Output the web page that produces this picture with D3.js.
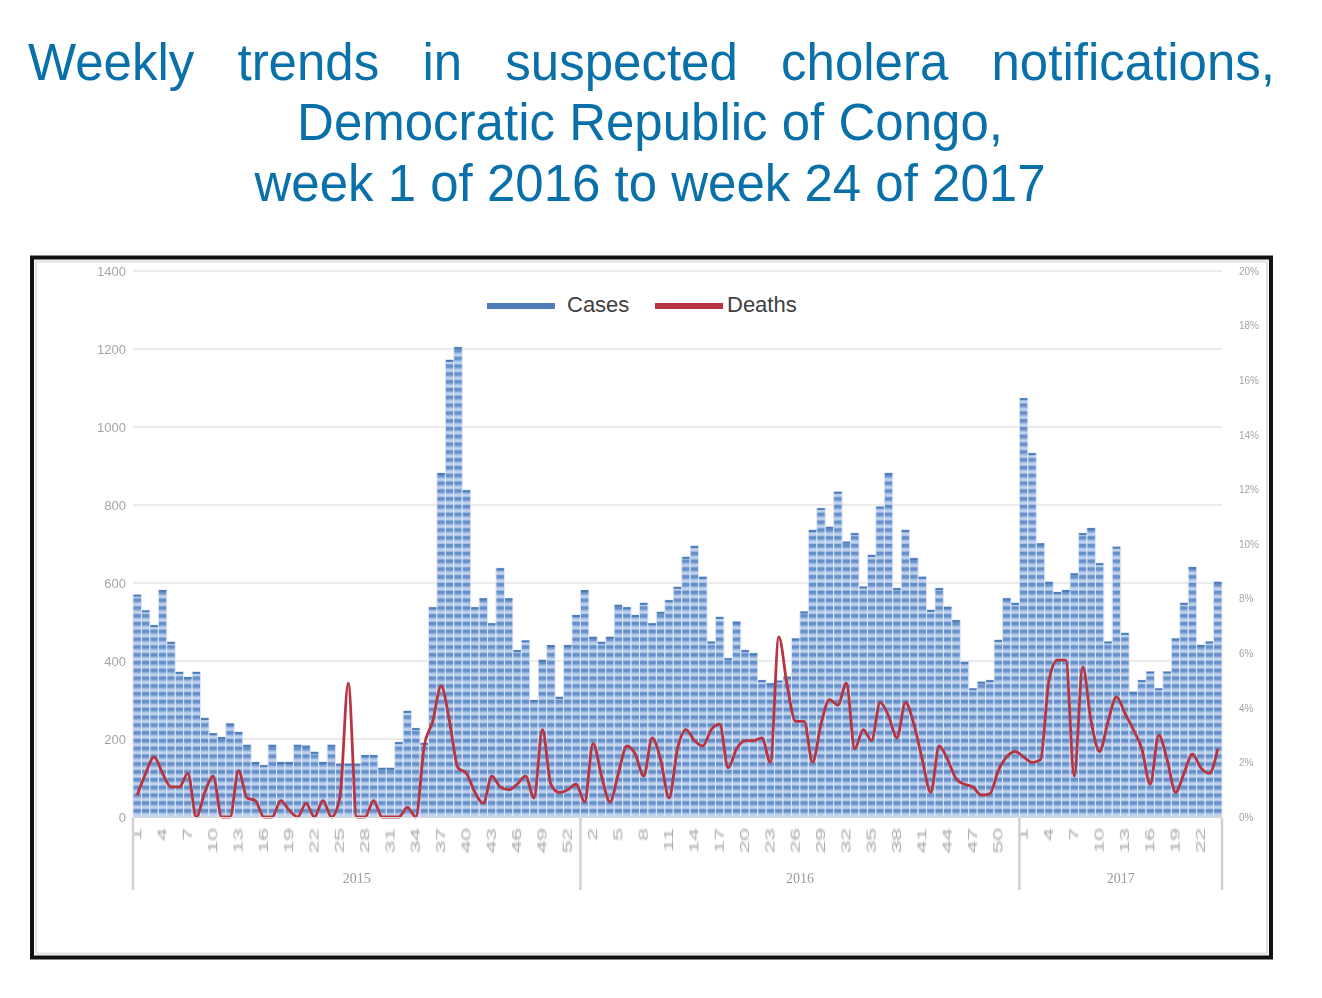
<!DOCTYPE html>
<html>
<head>
<meta charset="utf-8">
<script src="https://cdn.jsdelivr.net/npm/d3@7"></script>
<style>
  body { margin: 0; background: #fff; }
  svg { display: block; }
</style>
</head>
<body>
<svg width="1322" height="998"></svg>
<script>
// données
const titleLines = [
  "Weekly trends in suspected cholera notifications,",
  "Democratic Republic of Congo,",
  "week 1 of 2016 to week 24 of 2017"
];
const years = ["2015", "2016", "2017"];
const weeksPerYear = [53, 52, 24];

const cases2015 = [570, 530, 492, 582, 449, 372, 359, 372, 254, 215, 205, 240, 218, 185, 141, 133, 185, 141,
  141, 185, 183, 167, 141, 185, 137, 137, 137, 159, 159, 126, 126, 192, 272, 228, 190, 538, 882, 1172,
  1205, 838, 538, 561, 497, 638, 561, 428, 453, 300, 403, 441, 308, 441, 518];
const cases2016 = [582, 462, 449, 462, 544, 538, 518, 549, 497, 526, 556, 590, 667, 695, 616, 450, 513, 407,
  501, 428, 420, 351, 343, 350, 360, 458, 527, 736, 792, 744, 834, 706, 728, 591, 672, 796, 882, 587,
  736, 664, 616, 531, 587, 539, 505, 398, 330, 347, 351, 454, 561, 549];
const cases2017 = [1074, 933, 702, 603, 577, 582, 625, 728, 741, 651, 450, 693, 472, 321, 351, 373, 330, 373,
  458, 549, 641, 441, 450, 603];

// taux en %
const deaths2015 = [0.8, 1.6, 2.2, 1.6, 1.1, 1.1, 1.6, 0, 0.9, 1.5, 0, 0, 1.7, 0.7, 0.6, 0, 0, 0.6, 0.25, 0,
  0.5, 0, 0.6, 0, 0.7, 4.9, 0, 0, 0.6, 0, 0, 0, 0.35, 0, 2.6, 3.5, 4.8, 3.5, 1.8, 1.6, 0.9, 0.5, 1.5,
  1.1, 1.0, 1.2, 1.5, 0.7, 3.2, 1.2, 0.9, 1.0, 1.2];
const deaths2016 = [0.55, 2.7, 1.5, 0.55, 1.6, 2.6, 2.3, 1.5, 2.9, 2.1, 0.7, 2.5, 3.2, 2.8, 2.6, 3.2, 3.4, 1.8,
  2.5, 2.8, 2.8, 2.9, 2.0, 6.6, 4.8, 3.5, 3.5, 2.0, 3.4, 4.3, 4.1, 4.9, 2.5, 3.2, 2.8, 4.2, 3.7, 2.9,
  4.2, 3.4, 2.1, 0.9, 2.6, 2.1, 1.4, 1.2, 1.1, 0.8, 0.85, 1.7, 2.2, 2.4];
const deaths2017 = [2.2, 2.0, 2.1, 5.0, 5.75, 5.75, 1.5, 5.5, 3.5, 2.4, 3.5, 4.4, 3.8, 3.2, 2.5, 1.2, 3.0, 2.1,
  0.9, 1.6, 2.3, 1.8, 1.6, 2.5];

const caseTicks = [0, 200, 400, 600, 800, 1000, 1200, 1400];
const pctTicks = [0, 2, 4, 6, 8, 10, 12, 14, 16, 18, 20];
const legendItems = ["Cases", "Deaths"];

// construire les semaines
const weeks = [];
years.forEach((yr, i) => {
  for (let w = 1; w <= weeksPerYear[i]; w++) weeks.push({ year: yr, week: w });
});
const cases = cases2015.concat(cases2016, cases2017);
const deaths = deaths2015.concat(deaths2016, deaths2017);
weeks.forEach((d, i) => { d.cases = cases[i]; d.deaths = deaths[i]; d.i = i; });

const svg = d3.select("svg");
const blue = "#4f7db8", red = "#b83441", titleBlue = "#0a70a9";

// titre
const t1 = svg.append("g").attr("font-family", "'Liberation Sans', Arial, sans-serif")
  .attr("font-size", 51).attr("fill", titleBlue);
const words = titleLines[0].split(" ");
const wEls = words.map(w => t1.append("text").attr("y", 80).text(w));
const widths = wEls.map(e => e.node().getComputedTextLength());
const left = 28, right = 1275;
const gap = (right - left - d3.sum(widths)) / (words.length - 1);
let xx = left;
wEls.forEach((e, i) => { e.attr("x", xx); xx += widths[i] + gap; });
t1.append("text").attr("x", 650).attr("y", 140).attr("text-anchor", "middle").text(titleLines[1]);
t1.append("text").attr("x", 650).attr("y", 201).attr("text-anchor", "middle").text(titleLines[2]);

// cadre
svg.append("rect").attr("x", 32).attr("y", 257.5).attr("width", 1239).attr("height", 700)
  .attr("fill", "#fff").attr("stroke", "#111").attr("stroke-width", 4);
svg.append("rect").attr("x", 36).attr("y", 261.5).attr("width", 1231).attr("height", 692)
  .attr("fill", "none").attr("stroke", "#e2e2e2").attr("stroke-width", 2);

const defs = svg.append("defs");
const blur = defs.append("filter").attr("id", "soft");
blur.append("feGaussianBlur").attr("stdDeviation", 0.6);
const pat = defs.append("pattern").attr("id", "stripes").attr("patternUnits", "userSpaceOnUse")
  .attr("width", 20).attr("height", 7.8).attr("y", 817);
pat.append("rect").attr("width", 20).attr("height", 7.8).attr("fill", "#a6c0e6");
pat.append("rect").attr("width", 20).attr("height", 3.4).attr("fill", "#6590ca");
pat.append("rect").attr("y", 5.2).attr("width", 20).attr("height", 1.4).attr("fill", "#cbdaf0");

// échelles
const x = d3.scaleBand().domain(weeks.map(d => d.i)).range([133, 1222]).padding(0);
const y = d3.scaleLinear().domain([0, 1400]).range([817, 271]);
const y2 = d3.scaleLinear().domain([0, 20]).range([817, 271]);

// grille
svg.append("g").selectAll("line").data(caseTicks).join("line")
  .attr("x1", 133).attr("x2", 1222)
  .attr("y1", d => y(d)).attr("y2", d => y(d))
  .attr("stroke", "#e4e4e4").attr("stroke-width", 1.5);

// axes
const axL = svg.append("g").attr("transform", "translate(133,0)")
  .call(d3.axisLeft(y).tickValues(caseTicks).tickSize(0).tickPadding(7).tickFormat(d3.format("d")));
axL.select(".domain").remove();
axL.selectAll("text").attr("font-family", "'Liberation Sans', Arial, sans-serif")
  .attr("font-size", 13).attr("fill", "#a5a5a5").attr("filter", "url(#soft)");

const axR = svg.append("g").attr("transform", "translate(1232,0)")
  .call(d3.axisRight(y2).tickValues(pctTicks).tickSize(0).tickPadding(7).tickFormat(d => d + "%"));
axR.select(".domain").remove();
axR.selectAll("text").attr("font-family", "'Liberation Sans', Arial, sans-serif")
  .attr("font-size", 10).attr("fill", "#a5a5a5").attr("filter", "url(#soft)");

// barres
svg.append("g").selectAll("rect").data(weeks).join("rect")
  .attr("x", d => x(d.i)).attr("width", x.bandwidth())
  .attr("y", d => y(d.cases)).attr("height", d => y(0) - y(d.cases))
  .attr("fill", "url(#stripes)").attr("stroke", "#dde7f5").attr("stroke-width", 1);
svg.append("g").selectAll("line").data(weeks).join("line")
  .attr("x1", d => x(d.i) + 0.5).attr("x2", d => x(d.i) + x.bandwidth() - 0.5)
  .attr("y1", d => y(d.cases) + 1).attr("y2", d => y(d.cases) + 1)
  .attr("stroke", blue).attr("stroke-width", 2);

// ligne décès
const line = d3.line().x(d => x(d.i) + x.bandwidth() / 2).y(d => y2(d.deaths)).curve(d3.curveMonotoneX);
svg.append("path").datum(weeks).attr("d", line)
  .attr("fill", "none").attr("stroke", red).attr("stroke-width", 2.8).attr("stroke-linejoin", "round");

// axe x
svg.append("line").attr("x1", 133).attr("x2", 1222).attr("y1", 817.5).attr("y2", 817.5)
  .attr("stroke", "#d9d9d9");
const tickWeeks = weeks.filter(d => d.i % 3 === 0);
svg.append("g").selectAll("text").data(tickWeeks).join("text")
  .attr("transform", d => `translate(${x(d.i) + x.bandwidth() / 2 + 4},828) rotate(-90) scale(1.9,1)`)
  .attr("text-anchor", "end")
  .attr("font-family", "'Liberation Sans', Arial, sans-serif").attr("font-size", 12)
  .attr("fill", "#a8a8a8").attr("filter", "url(#soft)")
  .text(d => d.week);

// séparateurs des années
let start = 0;
const bounds = years.map((yr, i) => {
  const b = { year: yr, a: start, b: start + weeksPerYear[i] - 1 };
  start += weeksPerYear[i];
  return b;
});
const divs = [0].concat(bounds.map(b => b.b + 1));
svg.append("g").selectAll("line").data(divs).join("line")
  .attr("x1", d => d < weeks.length ? x(d) : x(weeks.length - 1) + x.bandwidth())
  .attr("x2", d => d < weeks.length ? x(d) : x(weeks.length - 1) + x.bandwidth())
  .attr("y1", 818).attr("y2", 890).attr("stroke", "#d2d2d2").attr("stroke-width", 2.5);
svg.append("g").selectAll("text").data(bounds).join("text")
  .attr("x", d => (x(d.a) + x(d.b) + x.bandwidth()) / 2).attr("y", 883)
  .attr("text-anchor", "middle")
  .attr("font-family", "'Liberation Serif', serif").attr("font-size", 14)
  .attr("fill", "#9a9a9a").attr("filter", "url(#soft)")
  .text(d => d.year);

// légende
const lg = svg.append("g").attr("font-family", "'Liberation Sans', Arial, sans-serif")
  .attr("font-size", 22).attr("fill", "#404040");
const legendPos = [{ x1: 487, x2: 555, tx: 567, c: blue }, { x1: 655, x2: 723, tx: 727, c: red }];
legendItems.forEach((name, i) => {
  const p = legendPos[i];
  lg.append("line").attr("x1", p.x1).attr("x2", p.x2).attr("y1", 306).attr("y2", 306)
    .attr("stroke", p.c).attr("stroke-width", 6);
  lg.append("text").attr("x", p.tx).attr("y", 312).text(name);
});
</script>
</body>
</html>
